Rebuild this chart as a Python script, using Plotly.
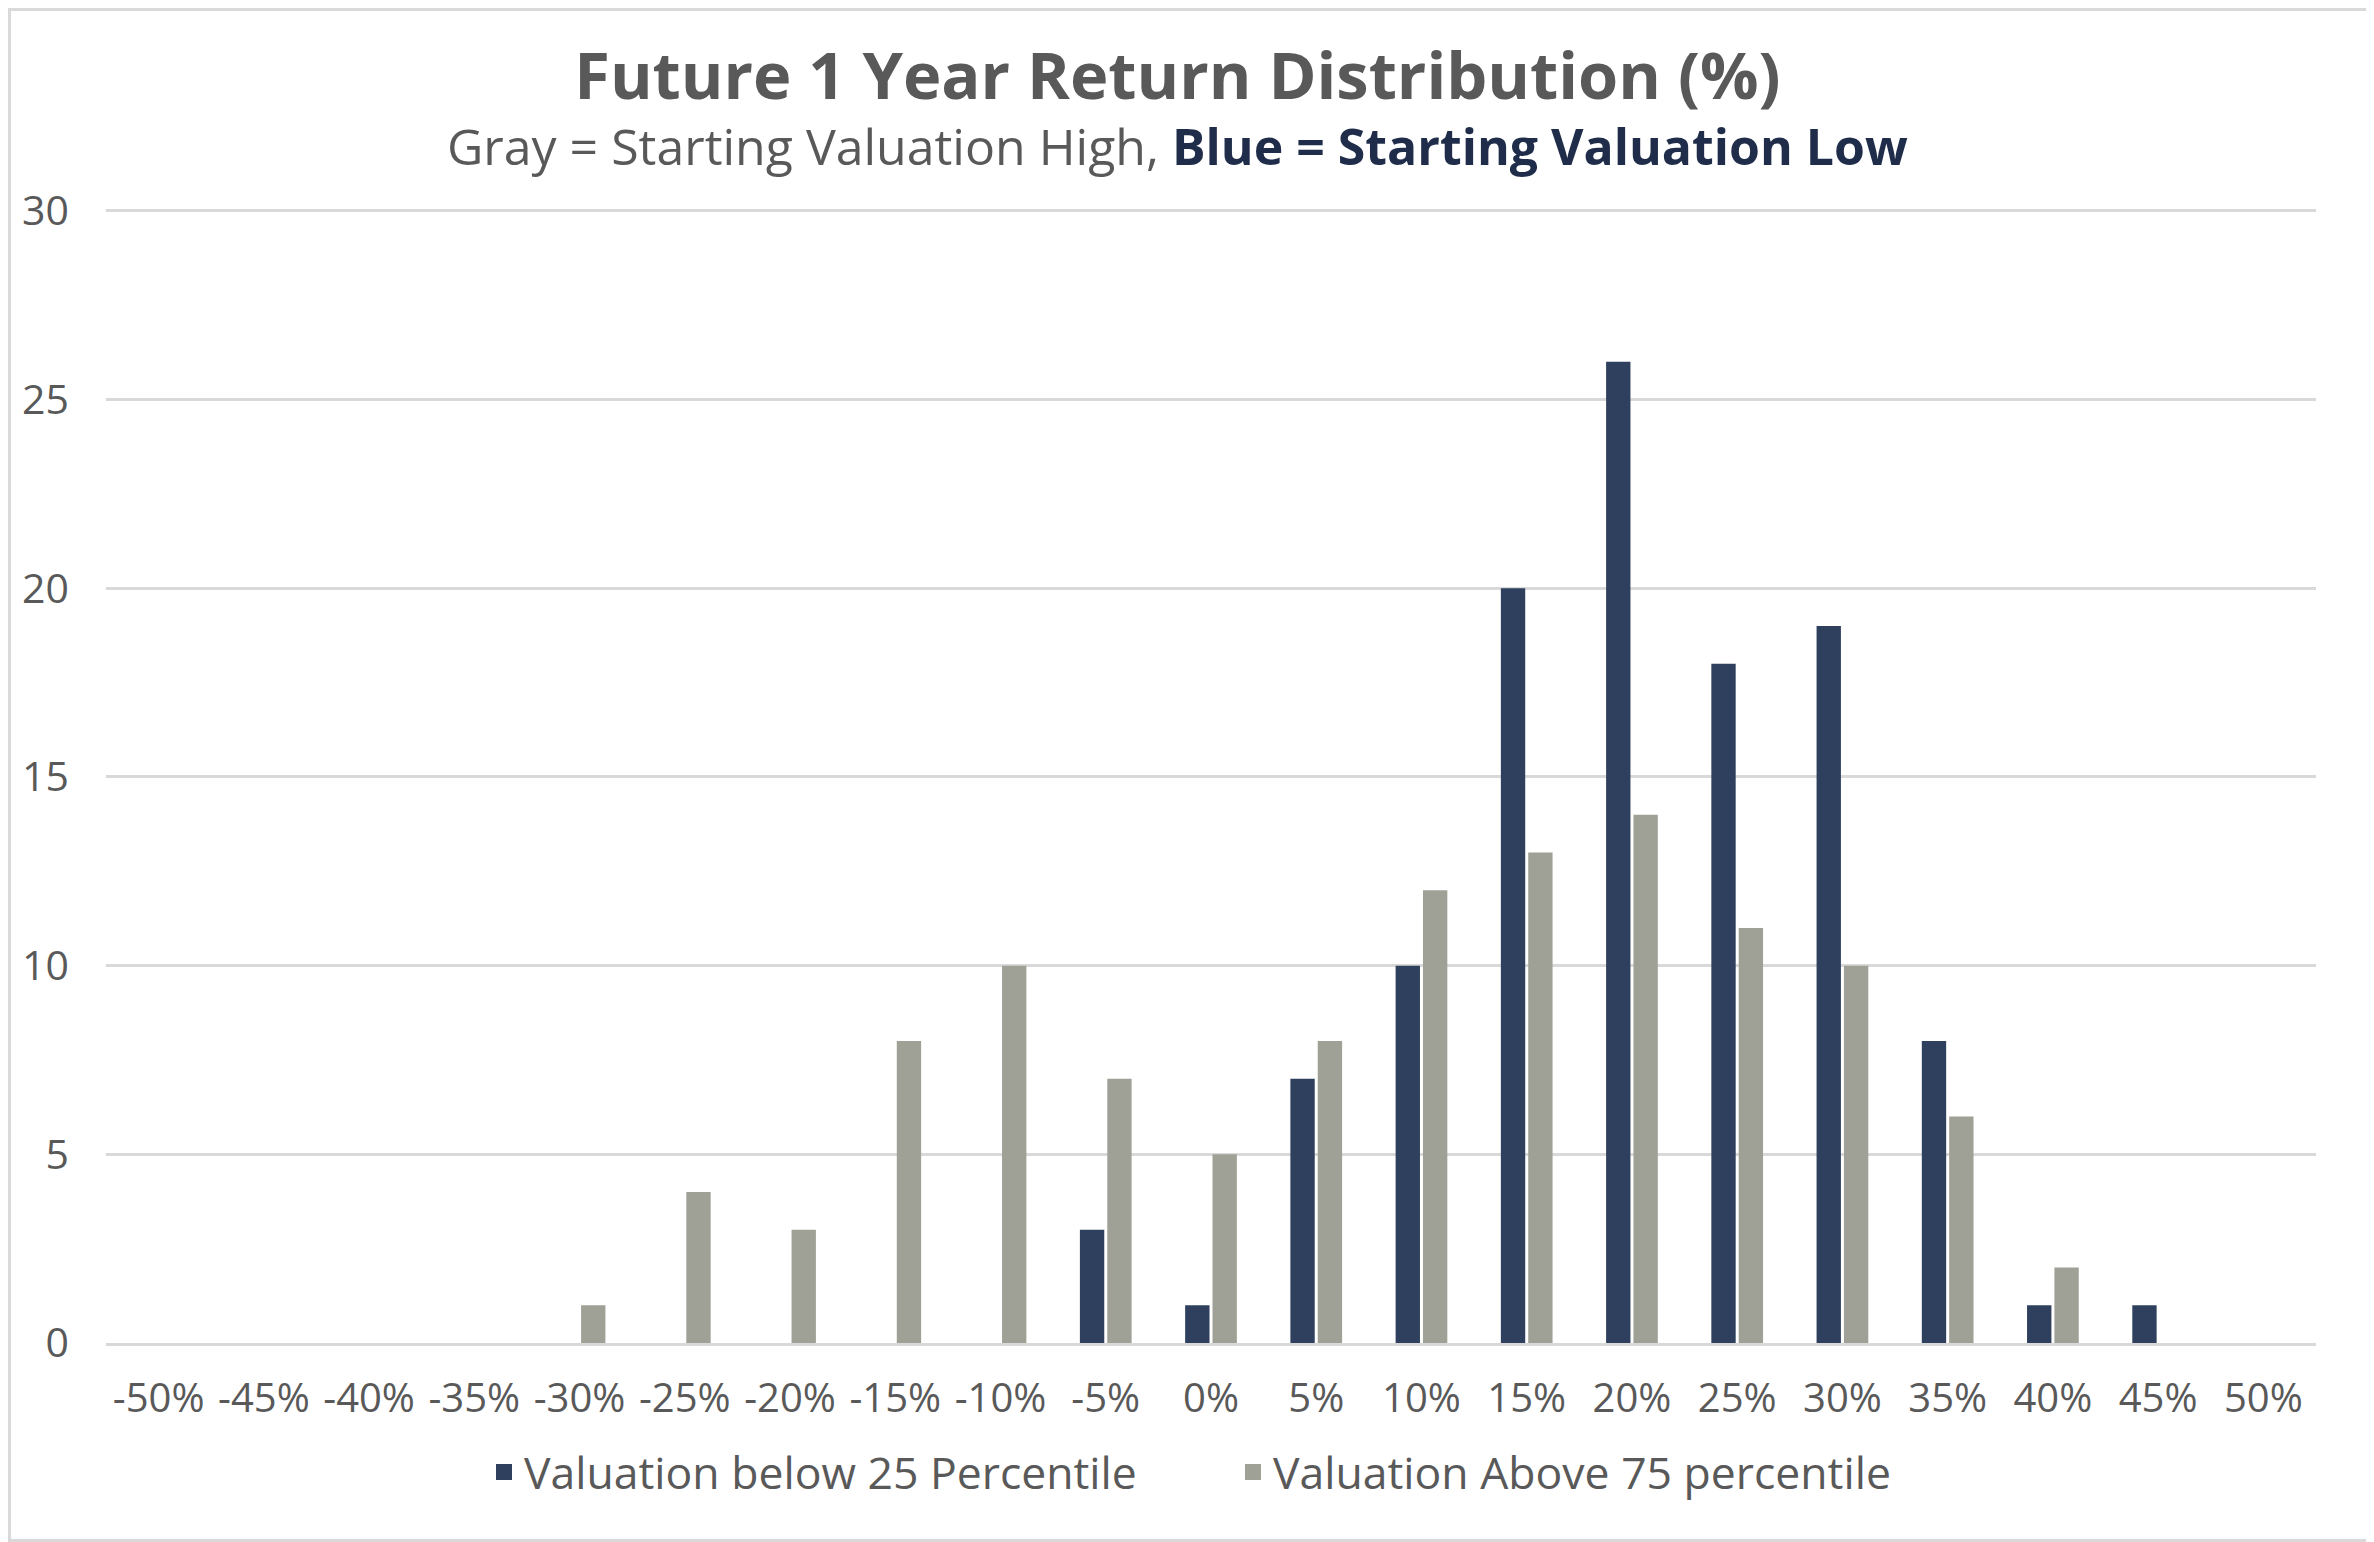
import plotly.graph_objects as go

categories = ["-50%", "-45%", "-40%", "-35%", "-30%", "-25%", "-20%", "-15%", "-10%", "-5%",
              "0%", "5%", "10%", "15%", "20%", "25%", "30%", "35%", "40%", "45%", "50%"]
below_25 = [0, 0, 0, 0, 0, 0, 0, 0, 0, 3, 1, 7, 10, 20, 26, 18, 19, 8, 1, 1, 0]
above_75 = [0, 0, 0, 0, 1, 4, 3, 8, 10, 7, 5, 8, 12, 13, 14, 11, 10, 6, 2, 0, 0]
y_ticks = [0, 5, 10, 15, 20, 25, 30]
names = ["Valuation below 25 Percentile", "Valuation Above 75 percentile"]
title = "Future 1 Year Return Distribution (%)"
subtitle_gray = "Gray = Starting Valuation High, "
subtitle_blue = "Blue = Starting Valuation Low"

FONT = "Open Sans"
TXT = "#595959"
BLUE = "#2F405E"
GRAY = "#A0A196"
GRID = "#D9D9D9"

fig = go.Figure()
fig.add_trace(go.Bar(x=categories, y=below_25, name=names[0], showlegend=False,
                     marker=dict(color=BLUE, line=dict(width=0))))
fig.add_trace(go.Bar(x=categories, y=above_75, name=names[1], showlegend=False,
                     marker=dict(color=GRAY, line=dict(width=0))))
# legend entries with square swatches
for nm, col in zip(names, [BLUE, GRAY]):
    fig.add_trace(go.Scatter(x=[None], y=[None], mode="markers", name=nm,
                             marker=dict(symbol="square", size=21, color=col)))

# page body has 8px default margin, so figure is offset by 8px
W, H = 2366, 1534
ml, mr, mt, mb = 98, 58, 201, 199
PW = W - ml - mr
PH = H - mt - mb
bottom = H - mb

heading = (f"<span style='font-size:65px'><b>{title}</b></span><br>"
           f"<span style='font-size:50px'>{subtitle_gray}<b><span style='color:#1F2D4A'>"
           f"{subtitle_blue}</span></b></span>")

fig.update_layout(
    width=W, height=H,
    margin=dict(l=ml, r=mr, t=mt, b=mb, autoexpand=False),
    paper_bgcolor="white", plot_bgcolor="white",
    barmode="group", bargap=0.48, bargroupgap=0.11,
    font=dict(family=FONT, color=TXT, size=40),
    showlegend=True,
    legend=dict(orientation="h", x=(1225 - ml) / PW, xanchor="center", y=(bottom - 1464) / PH,
                yanchor="middle", font=dict(size=44.5, color=TXT), itemwidth=30,
                entrywidth=704, traceorder="normal"),
    xaxis=dict(type="category", showgrid=False, showline=True, linecolor=GRID, linewidth=3,
               ticks="", tickfont=dict(size=40, color=TXT), ticklabelstandoff=18,
               range=[-0.5, 20.5]),
    yaxis=dict(range=[0, 30.05], tickvals=y_ticks, showgrid=True, gridcolor=GRID, gridwidth=3,
               zeroline=False, showline=False, ticks="", tickfont=dict(size=41, color=TXT),
               ticklabelstandoff=36),
    annotations=[
        dict(text=heading, xref="paper", yref="paper",
             x=(1169 - ml) / PW, y=(bottom - 97) / PH,
             xanchor="center", yanchor="middle", align="center", showarrow=False,
             font=dict(family=FONT, size=51, color="#595959")),
    ],
    shapes=[dict(type="rect", xref="paper", yref="paper",
                 x0=(1.5 - ml) / PW, x1=(W - 1.5 - ml) / PW,
                 y0=(bottom - (H - 1.5)) / PH, y1=(bottom - 1.5) / PH,
                 line=dict(color=GRID, width=3), fillcolor="rgba(0,0,0,0)", layer="below")],
)

fig.write_html("out.html")
